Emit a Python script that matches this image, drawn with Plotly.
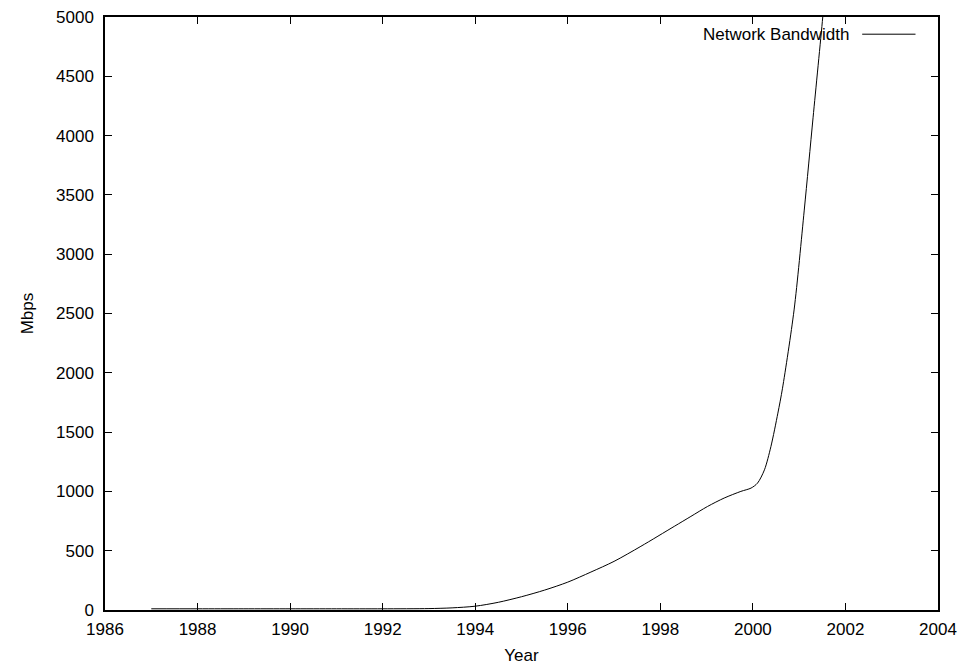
import plotly.graph_objects as go

# Data
years = [1987, 1988, 1989, 1990, 1991, 1992, 1993, 1993.5, 1994, 1994.5,
         1995, 1995.5, 1996, 1996.5, 1997, 1997.58, 1998.3, 1998.66, 1999.02,
         1999.38, 1999.74, 1999.96, 2000.1, 2000.25, 2000.39, 2000.54, 2000.64,
         2000.89, 2001.11, 2001.3, 2001.51, 2001.6]
mbps = [10, 10, 10, 10, 10, 10, 12, 18, 32, 65,
        112, 168, 235, 320, 410, 537, 705, 789, 873,
        944, 1000, 1028, 1070, 1182, 1379, 1660, 1870,
        2530, 3372, 4150, 5000, 5400]

series_name = "Network Bandwidth"
x_ticks = [1986, 1988, 1990, 1992, 1994, 1996, 1998, 2000, 2002, 2004]
y_ticks = list(range(0, 5001, 500))

FONT = "Liberation Sans, Arial, Helvetica, sans-serif"
FS = 17

fig = go.Figure()
fig.add_trace(go.Scatter(
    x=years, y=mbps, mode="lines", name=series_name,
    line=dict(color="black", width=1, shape="spline", smoothing=0.8),
    showlegend=False, hoverinfo="x+y",
))

fig.update_layout(
    width=972, height=668,
    margin=dict(l=105, r=34, t=17, b=58, autoexpand=False),
    paper_bgcolor="white", plot_bgcolor="white",
    font=dict(family=FONT, size=FS, color="black"),
    showlegend=False,
)

axis_common = dict(
    showgrid=False, zeroline=False, showline=True, linecolor="black",
    linewidth=1.5, mirror="allticks", ticks="inside", ticklen=7,
    tickcolor="black", tickwidth=1, tickfont=dict(family=FONT, size=FS, color="black"),
    automargin=False,
)

fig.update_xaxes(
    range=[1986, 2004], tickvals=x_ticks, ticktext=[str(v) for v in x_ticks],
    title=dict(text="Year", font=dict(family=FONT, size=FS), standoff=11),
    ticklabelstandoff=3,
    **axis_common,
)
fig.update_yaxes(
    range=[0, 5000], tickvals=y_ticks, ticktext=[str(v) for v in y_ticks],
    title=dict(text="Mbps", font=dict(family=FONT, size=FS), standoff=18),
    ticklabelstandoff=6,
    **axis_common,
)

# gnuplot-style key: text to the left of the line sample
fig.add_annotation(
    xref="paper", yref="paper", x=0.896, y=0.971, xanchor="right", yanchor="middle",
    text=series_name, showarrow=False, font=dict(family=FONT, size=FS, color="black"),
)
fig.add_shape(
    type="line", xref="paper", yref="paper", x0=0.909, x1=0.973, y0=0.971, y1=0.971,
    line=dict(color="black", width=1),
)

fig.write_html("out.html", config={"displayModeBar": False},
               post_script="document.body.style.margin='0';")
